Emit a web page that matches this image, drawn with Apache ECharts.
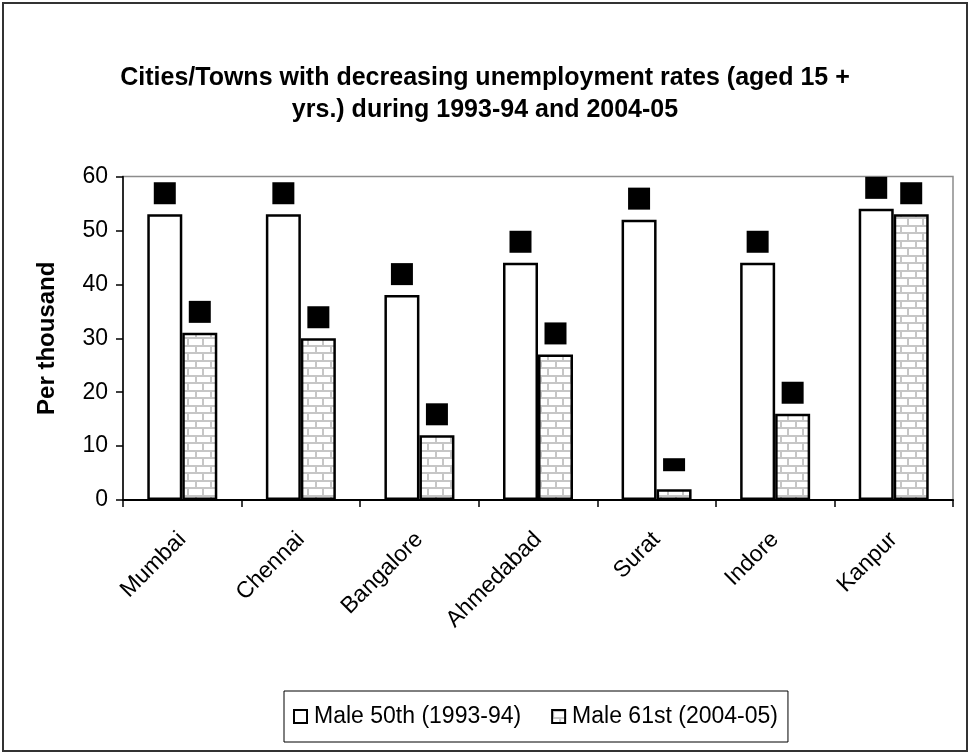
<!DOCTYPE html>
<html>
<head>
<meta charset="utf-8">
<script src="https://cdn.jsdelivr.net/npm/echarts@6/dist/echarts.min.js"></script>
<style>
  html, body { margin: 0; padding: 0; background: #fff; }
  #chart { width: 970px; height: 754px; }
</style>
</head>
<body>
<div id="chart"></div>
<script>
// Cities and towns, with unemployment rates per thousand for two survey rounds
const cities = ['Mumbai', 'Chennai', 'Bangalore', 'Ahmedabad', 'Surat', 'Indore', 'Kanpur'];
const male50th = [53, 53, 38, 44, 52, 44, 54];
const male61st = [31, 30, 12, 27, 2, 16, 53];
const yTicks = { min: 0, max: 60, interval: 10 };
const seriesNames = ['Male 50th (1993-94)', 'Male 61st (2004-05)'];

const FONT = 'Liberation Sans, Arial, sans-serif';

// Light grey brick fill for the second series
function brickPattern() {
  const c = document.createElement('canvas');
  c.width = 15; c.height = 15;
  const g = c.getContext('2d');
  g.fillStyle = '#ffffff';
  g.fillRect(0, 0, 15, 15);
  g.fillStyle = '#c6c6c6';
  g.fillRect(0, 0, 15, 2);
  g.fillRect(0, 7, 15, 2);
  g.fillRect(0, 0, 2, 7);
  g.fillRect(7, 8, 2, 7);
  return c;
}
const brick = { image: brickPattern(), repeat: 'repeat' };

// Value tags drawn as solid black boxes above each bar
const tag = {
  show: true,
  position: 'top',
  distance: 10,
  color: '#000',
  backgroundColor: '#000',
  fontSize: 13,
  width: 22,
  height: 22,
  lineHeight: 22,
  align: 'center',
  formatter: '{c}'
};

const secondData = male61st.map((v, i) =>
  cities[i] === 'Surat'
    ? { value: v, label: { height: 13, lineHeight: 13, distance: 18 } }
    : v
);

const chart = echarts.init(document.getElementById('chart'), null, { renderer: 'canvas' });
chart.setOption({
  backgroundColor: '#fff',
  animation: false,
  textStyle: { fontFamily: FONT },
  title: {
    text: 'Cities/Towns with decreasing unemployment rates (aged 15 +\nyrs.) during 1993-94 and 2004-05',
    left: 'center',
    top: 57,
    textStyle: {
      fontFamily: FONT,
      fontWeight: 'bold',
      fontSize: 25,
      lineHeight: 32,
      color: '#000'
    }
  },
  graphic: [{
    type: 'rect',
    shape: { x: 3, y: 3, width: 964, height: 748 },
    style: { fill: 'none', stroke: '#333', lineWidth: 2 },
    silent: true,
    z: 100
  }],
  legend: {
    left: 284,
    top: 691,
    padding: [14, 10, 14, 9],
    itemGap: 30,
    itemWidth: 13,
    itemHeight: 13,
    borderColor: '#000',
    borderWidth: 1,
    textStyle: { fontFamily: FONT, fontSize: 23, color: '#000', padding: [0, 0, 0, 2] },
    data: seriesNames.map(n => ({ name: n, icon: 'rect' }))
  },
  grid: {
    left: 123,
    top: 176.5,
    right: 17,
    bottom: 254,
    show: true,
    borderColor: '#8c8c8c',
    borderWidth: 1.5,
    backgroundColor: '#fff'
  },
  xAxis: {
    type: 'category',
    data: cities,
    boundaryGap: true,
    axisLine: { lineStyle: { color: '#000', width: 2 } },
    axisTick: { show: true, length: 7, lineStyle: { color: '#000', width: 1.5 }, alignWithLabel: false },
    axisLabel: {
      rotate: 45,
      margin: 36,
      fontFamily: FONT,
      fontSize: 23,
      color: '#000',
      interval: 0
    },
    splitLine: { show: false }
  },
  yAxis: {
    type: 'value',
    min: yTicks.min,
    max: yTicks.max,
    interval: yTicks.interval,
    name: 'Per thousand',
    nameLocation: 'middle',
    nameGap: 64,
    nameRotate: 90,
    nameTextStyle: { fontFamily: FONT, fontWeight: 'bold', fontSize: 24, color: '#000' },
    axisLine: { show: true, lineStyle: { color: '#000', width: 1.5 } },
    axisTick: { show: true, length: 7, lineStyle: { color: '#000', width: 1.5 } },
    axisLabel: { fontFamily: FONT, fontSize: 23, color: '#000', margin: 15 },
    splitLine: { show: false }
  },
  series: [
    {
      name: seriesNames[0],
      type: 'bar',
      data: male50th,
      barWidth: 35,
      barGap: '0%',
      itemStyle: { color: '#fff', borderColor: '#000', borderWidth: 2.5 },
      label: tag
    },
    {
      name: seriesNames[1],
      type: 'bar',
      data: secondData,
      barWidth: 35,
      barGap: '0%',
      itemStyle: { color: brick, borderColor: '#000', borderWidth: 2.5 },
      label: tag
    }
  ]
});
</script>
</body>
</html>
